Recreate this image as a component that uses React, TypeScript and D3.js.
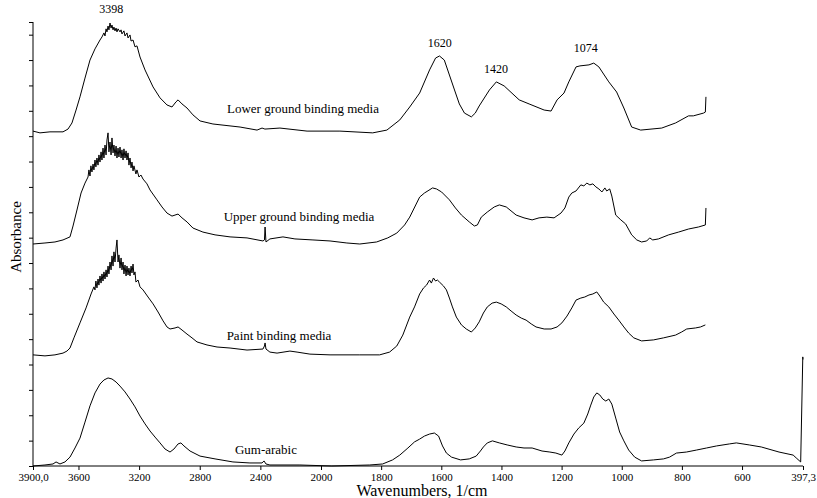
import React, { useEffect, useRef } from 'react';
import * as d3 from 'd3';

// FTIR spectra, stacked (offset absorbance units), wavenumber in 1/cm
const lowerGround: [number, number][] = [
  [3900, 13.2], [3854, 13.13], [3788, 13.17], [3702, 13.17], [3669, 13.28], [3643, 13.52],
  [3616, 14.03], [3590, 14.55], [3557, 15.29], [3524, 16.0], [3491, 16.44], [3458, 16.79],
  [3445, 16.91], [3432, 17.07], [3425, 16.95], [3418, 17.23], [3412, 17.11], [3405, 17.34],
  [3399, 17.19], [3392, 17.46], [3385, 17.26], [3379, 17.38], [3372, 17.19], [3366, 17.3],
  [3359, 17.15], [3352, 17.26], [3346, 17.11], [3339, 17.23], [3326, 17.11], [3319, 17.19],
  [3313, 17.03], [3300, 17.15], [3293, 16.95], [3280, 17.07], [3273, 16.87], [3260, 16.99],
  [3253, 16.75], [3240, 16.79], [3227, 16.52], [3214, 16.56], [3194, 16.12], [3161, 15.61],
  [3108, 14.94], [3062, 14.51], [3016, 14.23], [2983, 14.15], [2957, 14.35], [2943, 14.43],
  [2917, 14.27], [2884, 14.11], [2845, 13.84], [2798, 13.6], [2713, 13.48], [2534, 13.36],
  [2422, 13.24], [2389, 13.32], [2370, 13.28], [2271, 13.32], [2092, 13.2], [2000, 13.2],
  [1937, 13.2], [1828, 13.13], [1781, 13.24], [1738, 13.64], [1705, 14.15], [1672, 14.7],
  [1639, 15.61], [1619, 16.08], [1606, 16.16], [1590, 16.0], [1573, 15.41], [1556, 14.82],
  [1540, 14.27], [1523, 13.91], [1500, 13.76], [1487, 13.91], [1474, 14.19], [1440, 14.82],
  [1417, 15.14], [1391, 14.98], [1341, 14.43], [1308, 14.27], [1258, 14.03], [1235, 13.99],
  [1215, 14.43], [1192, 14.7], [1176, 15.14], [1152, 15.73], [1139, 15.77], [1109, 15.81],
  [1093, 15.88], [1076, 15.73], [1043, 15.14], [1017, 14.74], [993, 14.11], [967, 13.36],
  [937, 13.24], [867, 13.32], [821, 13.52], [778, 13.8], [762, 13.8], [728, 13.91],
  [722, 13.95], [720, 14.55],
];

const upperGround: [number, number][] = [
  [3900, 8.75], [3821, 8.79], [3755, 8.83], [3702, 8.91], [3656, 9.03], [3636, 9.46],
  [3610, 10.09], [3583, 10.76], [3557, 11.15], [3537, 11.39], [3531, 11.67], [3524, 11.43],
  [3518, 11.83], [3511, 11.59], [3504, 11.9], [3498, 11.67], [3491, 12.06], [3485, 11.79],
  [3478, 12.14], [3471, 11.86], [3465, 12.26], [3458, 11.98], [3451, 12.38], [3445, 12.06],
  [3438, 12.53], [3432, 12.14], [3425, 12.65], [3418, 12.26], [3412, 12.85], [3405, 13.13],
  [3399, 12.38], [3392, 12.77], [3385, 12.26], [3379, 12.93], [3372, 12.34], [3366, 12.65],
  [3359, 12.22], [3352, 12.61], [3346, 12.14], [3339, 12.53], [3333, 12.18], [3326, 12.57],
  [3319, 12.14], [3313, 12.46], [3306, 12.06], [3300, 12.5], [3293, 12.14], [3286, 12.42],
  [3280, 12.06], [3273, 12.34], [3267, 11.86], [3260, 12.14], [3253, 11.75], [3247, 11.98],
  [3240, 11.63], [3234, 11.83], [3221, 11.51], [3214, 11.67], [3201, 11.39], [3188, 11.47],
  [3174, 11.31], [3148, 11.12], [3128, 10.88], [3082, 10.49], [3049, 10.21], [3016, 9.97],
  [2983, 9.85], [2943, 9.93], [2917, 9.78], [2884, 9.62], [2845, 9.38], [2779, 9.22],
  [2699, 9.11], [2600, 9.03], [2488, 8.99], [2383, 8.87], [2373, 8.91], [2369, 9.42],
  [2363, 8.83], [2337, 8.95], [2251, 9.03], [2172, 8.95], [2053, 8.91], [1970, 8.87],
  [1914, 8.79], [1871, 8.75], [1815, 8.83], [1778, 8.99], [1748, 9.18], [1722, 9.5],
  [1705, 9.81], [1672, 10.6], [1656, 10.76], [1629, 10.96], [1616, 10.92], [1599, 10.8],
  [1573, 10.49], [1553, 10.17], [1533, 9.89], [1507, 9.62], [1490, 9.46], [1480, 9.5],
  [1467, 9.81], [1447, 10.01], [1424, 10.21], [1407, 10.29], [1384, 10.21], [1351, 9.89],
  [1325, 9.78], [1298, 9.7], [1275, 9.78], [1249, 9.81], [1225, 9.78], [1202, 9.97],
  [1189, 10.17], [1176, 10.6], [1166, 10.76], [1152, 10.84], [1136, 11.08], [1126, 11.04],
  [1116, 11.15], [1106, 11.08], [1096, 11.12], [1086, 11.0], [1076, 10.92], [1066, 10.8],
  [1056, 10.96], [1050, 10.84], [1040, 10.92], [1033, 10.64], [1020, 9.89], [1003, 9.7],
  [987, 9.54], [967, 9.11], [950, 8.91], [934, 8.83], [917, 8.87], [907, 8.99],
  [897, 8.91], [878, 8.95], [844, 9.11], [811, 9.22], [778, 9.34], [745, 9.42],
  [722, 9.5], [720, 10.17],
];

const paint: [number, number][] = [
  [3900, 4.38], [3821, 4.34], [3755, 4.38], [3702, 4.45], [3676, 4.53], [3656, 4.65],
  [3630, 5.05], [3590, 5.64], [3550, 6.23], [3517, 6.78], [3498, 7.06], [3491, 6.94],
  [3485, 7.29], [3478, 7.02], [3471, 7.37], [3465, 7.13], [3458, 7.49], [3451, 7.21],
  [3445, 7.57], [3438, 7.29], [3432, 7.65], [3425, 7.37], [3418, 7.73], [3412, 7.45],
  [3405, 7.88], [3399, 7.57], [3392, 8.04], [3385, 7.73], [3379, 8.28], [3372, 7.88],
  [3366, 8.44], [3359, 8.04], [3352, 8.59], [3346, 8.91], [3339, 8.04], [3333, 8.32],
  [3326, 7.8], [3319, 8.2], [3313, 7.73], [3306, 8.04], [3300, 7.57], [3293, 7.92],
  [3286, 7.49], [3280, 7.88], [3273, 7.53], [3267, 7.8], [3260, 7.49], [3253, 7.88],
  [3247, 7.61], [3240, 7.96], [3234, 7.53], [3227, 7.65], [3221, 7.25], [3207, 7.33],
  [3194, 7.06], [3174, 6.94], [3141, 6.66], [3108, 6.39], [3075, 6.07], [3042, 5.72],
  [3016, 5.48], [2996, 5.4], [2963, 5.44], [2943, 5.48], [2917, 5.36], [2884, 5.2],
  [2851, 5.05], [2818, 4.89], [2752, 4.77], [2686, 4.69], [2600, 4.65], [2488, 4.57],
  [2383, 4.61], [2373, 4.73], [2369, 4.85], [2363, 4.61], [2337, 4.49], [2290, 4.45],
  [2205, 4.53], [2158, 4.49], [2073, 4.41], [1970, 4.38], [1871, 4.38], [1805, 4.38],
  [1772, 4.49], [1748, 4.73], [1728, 5.16], [1705, 5.87], [1689, 6.27], [1672, 6.78],
  [1659, 7.02], [1649, 7.13], [1639, 7.33], [1633, 7.21], [1626, 7.41], [1619, 7.29],
  [1613, 7.33], [1606, 7.25], [1593, 7.1], [1583, 6.94], [1573, 6.62], [1563, 6.27],
  [1550, 5.87], [1533, 5.56], [1517, 5.4], [1500, 5.28], [1487, 5.44], [1474, 5.68],
  [1460, 6.03], [1447, 6.27], [1431, 6.42], [1417, 6.46], [1401, 6.39], [1384, 6.27],
  [1368, 6.11], [1351, 5.95], [1334, 5.83], [1318, 5.75], [1301, 5.6], [1285, 5.48],
  [1258, 5.4], [1235, 5.4], [1215, 5.48], [1199, 5.64], [1182, 5.91], [1166, 6.23],
  [1152, 6.54], [1136, 6.62], [1123, 6.66], [1109, 6.74], [1096, 6.78], [1083, 6.86],
  [1073, 6.7], [1060, 6.46], [1043, 6.27], [1026, 5.99], [1010, 5.75], [993, 5.48],
  [977, 5.24], [960, 5.05], [934, 4.93], [894, 4.97], [861, 5.05], [821, 5.16],
  [801, 5.28], [784, 5.4], [755, 5.44], [738, 5.48], [722, 5.56],
];

const gumArabic: [number, number][] = [
  [3900, 0.0], [3821, 0.04], [3768, 0.08], [3748, 0.16], [3722, 0.08], [3689, 0.16],
  [3656, 0.35], [3623, 0.71], [3590, 1.1], [3557, 1.73], [3524, 2.37], [3491, 2.88],
  [3458, 3.23], [3432, 3.39], [3405, 3.47], [3379, 3.43], [3352, 3.31], [3326, 3.15],
  [3293, 2.92], [3260, 2.64], [3227, 2.33], [3194, 1.97], [3161, 1.66], [3128, 1.38],
  [3095, 1.14], [3062, 0.91], [3029, 0.67], [2996, 0.55], [2970, 0.67], [2943, 0.87],
  [2924, 0.91], [2904, 0.79], [2864, 0.59], [2798, 0.39], [2699, 0.28], [2581, 0.16],
  [2469, 0.12], [2389, 0.12], [2376, 0.2], [2363, 0.08], [2337, 0.04], [2139, 0.04],
  [1964, 0.0], [1838, 0.04], [1795, 0.08], [1762, 0.24], [1738, 0.43], [1711, 0.71],
  [1689, 0.95], [1672, 1.06], [1656, 1.18], [1639, 1.26], [1623, 1.3], [1609, 1.18],
  [1596, 0.79], [1583, 0.51], [1566, 0.35], [1536, 0.24], [1507, 0.28], [1484, 0.39],
  [1470, 0.59], [1460, 0.75], [1447, 0.91], [1430, 0.99], [1407, 0.91], [1381, 0.83],
  [1351, 0.75], [1325, 0.71], [1298, 0.71], [1265, 0.59], [1239, 0.55], [1219, 0.51],
  [1199, 0.43], [1189, 0.59], [1176, 0.91], [1159, 1.26], [1143, 1.5], [1126, 1.69],
  [1113, 2.05], [1103, 2.4], [1093, 2.72], [1083, 2.88], [1073, 2.8], [1063, 2.64],
  [1053, 2.56], [1043, 2.64], [1033, 2.44], [1020, 1.89], [1007, 1.34], [993, 0.99],
  [977, 0.63], [957, 0.35], [934, 0.2], [894, 0.24], [861, 0.28], [841, 0.35],
  [818, 0.51], [785, 0.55], [751, 0.63], [718, 0.71], [685, 0.79], [642, 0.87],
  [619, 0.91], [576, 0.83], [536, 0.75], [477, 0.55], [430, 0.43], [420, 0.32],
  [405, 0.16], [398, 4.3], [397.3, 4.2],
];

const seriesList = [lowerGround, upperGround, paint, gumArabic];

const seriesLabels = ['Lower ground binding media', 'Upper ground binding media', 'Paint binding media', 'Gum-arabic'];
const seriesLabelPos: [number, number][] = [[2119, 13.9], [2145, 9.66], [2277, 4.97], [2363, 0.47]];

const peakLabels = ['3398', '1620', '1420', '1074'];
const peakLabelPos: [number, number][] = [[3383, 17.85], [1605, 16.5], [1418, 15.5], [1120, 16.3]];

const xTickValues = [3900, 3600, 3200, 2800, 2400, 2000, 1800, 1600, 1400, 1200, 1000, 800, 600, 397.3];
const xTickLabels = ['3900,0', '3600', '3200', '2800', '2400', '2000', '1800', '1600', '1400', '1200', '1000', '800', '600', '397,3'];
const yTickValues = [...d3.range(0, 18), 17.5];

const W = 817;
const H = 498;
const FONT = '"Liberation Serif", "Times New Roman", serif';

const App: React.FC = () => {
  const svgRef = useRef<SVGSVGElement>(null);

  useEffect(() => {
    if (!svgRef.current) return;
    const svg = d3.select(svgRef.current);
    svg.selectAll('*').remove();

    // the spectrometer scale halves its compression below 2000 1/cm
    const x = d3.scaleLinear().domain([3900, 2000, 397.3]).range([33, 321, 803]);
    const y = d3.scaleLinear().domain([0, 17.5]).range([466, 22]);

    const line = d3.line<[number, number]>()
      .x(d => x(d[0]))
      .y(d => y(d[1]));

    svg.selectAll('path.spec')
      .data(seriesList)
      .enter().append('path')
      .attr('class', 'spec')
      .attr('d', d => line(d))
      .attr('fill', 'none')
      .attr('stroke', '#000')
      .attr('stroke-width', 1)
      .attr('stroke-linejoin', 'round');

    // axes
    const xAxis = d3.axisBottom(x)
      .tickValues(xTickValues)
      .tickSize(4)
      .tickPadding(3)
      .tickFormat((_d, i) => xTickLabels[i]);
    const gx = svg.append('g').attr('transform', `translate(0,${y(0)})`).call(xAxis);
    gx.select('.domain').attr('stroke', '#000').attr('d', `M${x(3900)},0H${x(397.3)}`);
    gx.selectAll('text').attr('font-family', FONT).attr('font-size', 11).attr('fill', '#000');

    const yAxis = d3.axisLeft(y).tickValues(yTickValues).tickSize(4).tickFormat(() => '');
    const gy = svg.append('g').attr('transform', `translate(${x(3900)},0)`).call(yAxis);
    gy.select('.domain').attr('stroke', '#000').attr('d', `M0,${y(17.5)}V${y(0)}`);

    // series names
    svg.selectAll('text.series')
      .data(seriesLabels)
      .enter().append('text')
      .attr('class', 'series')
      .attr('x', (_d, i) => x(seriesLabelPos[i][0]))
      .attr('y', (_d, i) => y(seriesLabelPos[i][1]))
      .attr('text-anchor', 'middle')
      .attr('font-family', FONT)
      .attr('font-size', 13)
      .text(d => d);

    // peak annotations
    svg.selectAll('text.peak')
      .data(peakLabels)
      .enter().append('text')
      .attr('class', 'peak')
      .attr('x', (_d, i) => x(peakLabelPos[i][0]))
      .attr('y', (_d, i) => y(peakLabelPos[i][1]))
      .attr('text-anchor', 'middle')
      .attr('font-family', FONT)
      .attr('font-size', 12)
      .text(d => d);

    svg.append('text')
      .attr('x', 422)
      .attr('y', 496)
      .attr('text-anchor', 'middle')
      .attr('font-family', FONT)
      .attr('font-size', 16)
      .text('Wavenumbers, 1/cm');

    svg.append('text')
      .attr('transform', `translate(21,237) rotate(-90)`)
      .attr('text-anchor', 'middle')
      .attr('font-family', FONT)
      .attr('font-size', 15)
      .text('Absorbance');
  }, []);

  return (
    <svg ref={svgRef} width={W} height={H}
      style={{ position: 'absolute', left: 0, top: 0, background: '#fff' }} />
  );
};

export default App;
